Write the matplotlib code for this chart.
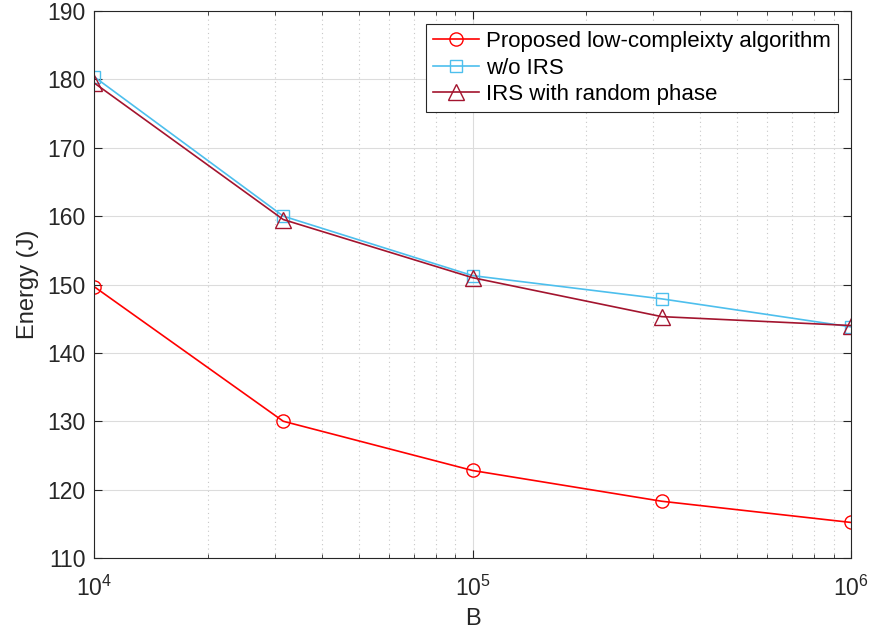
import matplotlib
matplotlib.use("Agg")
import matplotlib.pyplot as plt
from matplotlib.ticker import LogLocator, NullFormatter

plt.rcParams['font.family'] = ['Liberation Sans', 'DejaVu Sans']

# bandwidth B (log scale)
B = [1e4, 10**4.5, 1e5, 10**5.5, 1e6]

proposed = [149.7, 130.0, 122.8, 118.3, 115.2]
no_irs = [180.4, 160.0, 151.3, 147.9, 143.8]
random_phase = [179.5, 159.5, 151.0, 145.3, 144.0]

labels = ["Proposed low-compleixty algorithm", "w/o IRS", "IRS with random phase"]

fig = plt.figure(figsize=(8.74, 6.36), dpi=100)
ax = fig.add_axes([94 / 874, 1 - 558 / 636, (851 - 94) / 874, (558 - 11) / 636])

ax.plot(B, proposed, color=(1, 0, 0), marker="o", markersize=9.5, markerfacecolor="none",
        linewidth=1.2, label=labels[0])
ax.plot(B, no_irs, color=(0.30, 0.75, 0.93), marker="s", markersize=8, markerfacecolor="none",
        linewidth=1.2, label=labels[1])
ax.plot(B, random_phase, color=(0.64, 0.08, 0.18), marker="^", markersize=11, markerfacecolor="none",
        linewidth=1.2, label=labels[2])

ax.set_xscale("log")
ax.set_xlim(1e4, 1e6)
ax.set_ylim(110, 190)
ax.set_yticks(range(110, 191, 10))
ax.xaxis.set_minor_locator(LogLocator(base=10, subs=range(2, 10)))
ax.xaxis.set_minor_formatter(NullFormatter())

ax.grid(True, which="major", color="#dcdcdc", linewidth=0.8)
ax.grid(True, which="minor", axis="x", color="#c8c8c8", linestyle=(0, (1, 3)), linewidth=0.8)
ax.set_axisbelow(True)

ax.tick_params(which="both", direction="in", top=True, right=True, labelsize=16.5, colors="#262626")
ax.tick_params(which="major", length=6)
ax.tick_params(which="minor", length=3)
ax.tick_params(axis="x", which="major", pad=13)
ax.tick_params(axis="y", which="major", pad=6)
for s in ax.spines.values():
    s.set_color("#262626")
    s.set_linewidth(0.8)

ax.set_xlabel("B", fontsize=17, color="#262626", labelpad=5)
ax.set_ylabel("Energy (J)", fontsize=17, color="#262626", labelpad=6)

leg = ax.legend(loc="upper right", fontsize=16, fancybox=False, edgecolor="#262626",
                framealpha=1, borderaxespad=0.6, handlelength=2.1, labelspacing=0.25,
                handletextpad=0.3, borderpad=0.3)
leg.get_frame().set_linewidth(0.8)

fig.savefig("out.png", dpi=100)
